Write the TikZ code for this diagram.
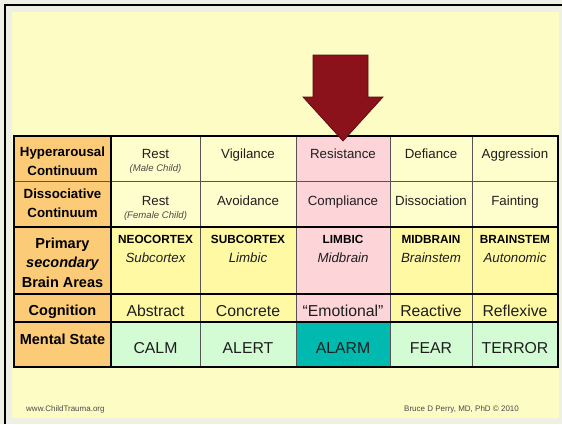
\documentclass[tikz,border=0pt]{standalone}
\usepackage{fontspec}
\setmainfont{Liberation Sans}
\definecolor{pagegrey}{HTML}{EEF0E4}
\definecolor{panel}{HTML}{FDFCC4}
\definecolor{headorange}{HTML}{FCCB77}
\definecolor{paleyellow}{HTML}{FEFECC}
\definecolor{brightyellow}{HTML}{FFF9A4}
\definecolor{mintgreen}{HTML}{D4FCD4}
\definecolor{limbicpink}{HTML}{FDD5D9}
\definecolor{alarmteal}{HTML}{00B9AF}
\definecolor{arrowred}{HTML}{8B111B}
\definecolor{arrowedge}{HTML}{5A0A10}
\definecolor{gridgrey}{HTML}{555555}
\definecolor{inkgrey}{HTML}{1E1E1E}
\definecolor{notegrey}{HTML}{4A4A4A}
\begin{document}
\begin{tikzpicture}[x=1pt,y=-1pt,
  txt/.style={anchor=base,inner sep=0pt,text=inkgrey},
  cell/.style={txt,font=\fontsize{13.3}{15}\selectfont},
  note/.style={txt,font=\fontsize{9.6}{11}\selectfont\itshape,text=notegrey},
  head/.style={txt,font=\fontsize{13.3}{15}\selectfont\bfseries,text=black},
  bighead/.style={txt,font=\fontsize{14.5}{16}\selectfont\bfseries,text=black},
  area/.style={txt,font=\fontsize{11.8}{13}\selectfont\bfseries,text=black},
  subarea/.style={txt,font=\fontsize{13.3}{15}\selectfont\itshape},
  big/.style={txt,font=\fontsize{15.8}{17}\selectfont},
  credit/.style={anchor=base west,inner sep=0pt,text=notegrey,font=\fontsize{8}{9}\selectfont},
  thinrule/.style={draw=gridgrey,line width=0.9pt},
  thickrule/.style={draw=black,line width=1.7pt}]
\useasboundingbox (0,0) rectangle (562,424);

% page and panel
\fill[pagegrey] (0,0) rectangle (562,424);
\draw[black,line width=1.6pt] (5,424) -- (5,5) -- (562,5);
\fill[panel] (12,12) rectangle (559,418);

% cell fills
\fill[headorange] (14,136) rectangle (111,367);
\fill[paleyellow] (111,136) rectangle (558,227);
\fill[brightyellow] (111,227) rectangle (558,322);
\fill[mintgreen] (111,322) rectangle (558,367);
\fill[limbicpink] (296,136) rectangle (390,322);
\fill[alarmteal] (296,322) rectangle (390,367);

% grid
\draw[thinrule] (14,181) -- (558,181);
\foreach \cx in {200,296,390,472} \draw[thinrule] (\cx,136) -- (\cx,367);
\draw[thickrule] (14,227) -- (558,227);
\draw[thickrule] (14,294) -- (558,294);
\draw[thickrule] (14,322) -- (558,322);
\draw[thickrule] (111,136) -- (111,367);
\draw[black,line width=2pt] (14,136) rectangle (558,367);

% row headers
\node[head] (h1a) at (62.5,156.7) {Hyperarousal};
\node[head] (h1b) at (62.5,175) {Continuum};
\node[head] (h2a) at (62.5,198.3) {Dissociative};
\node[head] (h2b) at (62.5,217.3) {Continuum};
\node[bighead] (h3a) at (62.5,248.3) {Primary};
\node[bighead,font=\fontsize{14.5}{16}\selectfont\bfseries\itshape] (h3b) at (62.5,267.7) {secondary};
\node[bighead] (h3c) at (62.5,287.3) {Brain Areas};
\node[bighead] (h4) at (62.5,315.3) {Cognition};
\node[bighead] (h5) at (62.5,344.3) {Mental State};

% hyperarousal continuum
\node[cell] (r1c1) at (155.5,158.3) {Rest};
\node[note] (r1c1n) at (155.5,171.5) {(Male Child)};
\node[cell] (r1c2) at (248,158.3) {Vigilance};
\node[cell] (r1c3) at (343,158.3) {Resistance};
\node[cell] (r1c4) at (431,158.3) {Defiance};
\node[cell] (r1c5) at (515,158.3) {Aggression};

% dissociative continuum
\node[cell] (r2c1) at (155.5,205) {Rest};
\node[note] (r2c1n) at (155.5,218.3) {(Female Child)};
\node[cell] (r2c2) at (248,205) {Avoidance};
\node[cell] (r2c3) at (343,205) {Compliance};
\node[cell] (r2c4) at (431,205) {Dissociation};
\node[cell] (r2c5) at (515,205) {Fainting};

% brain areas
\node[area] (r3c1) at (155.5,243.3) {NEOCORTEX};
\node[subarea] (r3c1s) at (155.5,262.3) {Subcortex};
\node[area] (r3c2) at (248,243.3) {SUBCORTEX};
\node[subarea] (r3c2s) at (248,262.3) {Limbic};
\node[area] (r3c3) at (343,243.3) {LIMBIC};
\node[subarea] (r3c3s) at (343,262.3) {Midbrain};
\node[area] (r3c4) at (431,243.3) {MIDBRAIN};
\node[subarea] (r3c4s) at (431,262.3) {Brainstem};
\node[area] (r3c5) at (515,243.3) {BRAINSTEM};
\node[subarea] (r3c5s) at (515,262.3) {Autonomic};

% cognition
\node[big] (r4c1) at (155.5,316) {Abstract};
\node[big] (r4c2) at (248,316) {Concrete};
\node[big] (r4c3) at (343,316) {“Emotional”};
\node[big] (r4c4) at (431,316) {Reactive};
\node[big] (r4c5) at (515,316) {Reflexive};

% mental state
\node[big] (r5c1) at (155.5,353.3) {CALM};
\node[big] (r5c2) at (248,353.3) {ALERT};
\node[big] (r5c3) at (343,353.3) {ALARM};
\node[big] (r5c4) at (431,353.3) {FEAR};
\node[big] (r5c5) at (515,353.3) {TERROR};

% pointer onto the limbic column
\filldraw[fill=arrowred,draw=arrowedge,line width=0.7pt,line join=miter]
  (313,55) -- (368,55) -- (368,97) -- (383,97) -- (343,141) -- (303,97) -- (313,97) -- cycle;

% credits
\node[credit] (site) at (26,411) {www.ChildTrauma.org};
\node[credit] (author) at (404,411) {Bruce D Perry, MD, PhD © 2010};
\end{tikzpicture}
\end{document}
